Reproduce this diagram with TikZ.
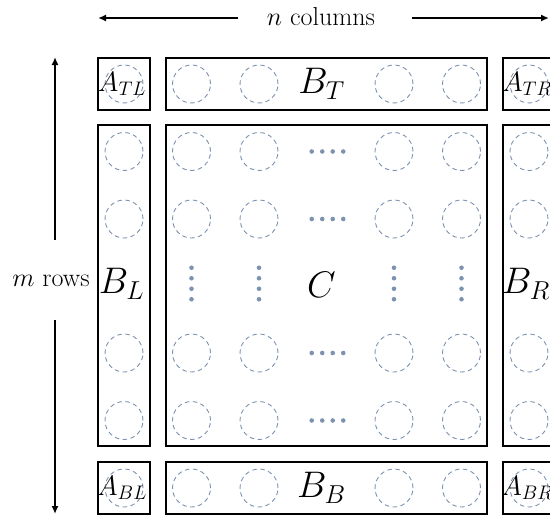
\RequirePackage{fix-cm}
\documentclass[tikz,border=0pt]{standalone}
\usepackage{fontspec}
\usetikzlibrary{arrows.meta}
\definecolor{dotc}{RGB}{125,146,176}
\tikzset{
  blk/.style={draw=black, line width=1.6pt, minimum width=#1, inner sep=0pt},
  cell/.style={circle, draw=dotc, line width=0.9pt, dash pattern=on 4.5pt off 3.5pt, minimum size=38pt, inner sep=0pt},
  dotn/.style={circle, fill=dotc, minimum size=4.6pt, inner sep=0pt},
  big/.style={font=\fontsize{37}{40}\selectfont, inner sep=0pt},
  corner/.style={font=\fontsize{28}{31}\selectfont, inner sep=0pt},
  lab/.style={font=\fontsize{26}{30}\selectfont, inner sep=0pt},
  dimarrow/.style={line width=2.2pt, -{Latex[length=8pt,width=7pt]}}
}
\begin{document}
\begin{tikzpicture}[x=1pt,y=-1pt]
\useasboundingbox (0,0) rectangle (550,517);
\clip (0,0) rectangle (550,517);
% circles
\foreach \c/\x in {0/124,1/191.5,2/259,4/394,5/461.5,6/529}{
  \foreach \r/\y in {0/84,1/151.5,2/219,4/353,5/420.5,6/488}{
    \node[cell] (c\r\c) at (\x,\y) {};
  }
}
% horizontal dots in C
\foreach \r/\y in {1/151.5,2/219,4/353,5/420.5}{
  \foreach \k/\dx in {a/-15.75,b/-5.25,c/5.25,d/15.75}{
    \node[dotn] (h\r\k) at (327.5+\dx,\y) {};
  }
}
% vertical dots in C
\foreach \c/\x in {1/191.5,2/259,4/394,5/461.5}{
  \foreach \k/\dy in {a/-15.75,b/-5.25,c/5.25,d/15.75}{
    \node[dotn] (v\c\k) at (\x,283.5+\dy) {};
  }
}
% boxes
\node[blk=52pt, minimum height=52pt] (ATL) at (124,84) {};
\node[blk=321pt, minimum height=52pt] (BT) at (326.5,84) {};
\node[blk=52pt, minimum height=52pt] (ATR) at (529,84) {};
\node[blk=52pt, minimum height=321pt] (BL) at (124,285.5) {};
\node[blk=321pt, minimum height=321pt] (C) at (326.5,285.5) {};
\node[blk=52pt, minimum height=321pt] (BR) at (529,285.5) {};
\node[blk=52pt, minimum height=52pt] (ABL) at (124,488) {};
\node[blk=321pt, minimum height=52pt] (BB) at (326.5,488) {};
\node[blk=52pt, minimum height=52pt] (ABR) at (529,488) {};
% labels
\node[corner] (lATL) at (122,84) {$A_{TL}$};
\node[corner] (lATR) at (527,84) {$A_{TR}$};
\node[corner] (lABL) at (122,488) {$A_{BL}$};
\node[corner] (lABR) at (527,488) {$A_{BR}$};
\node[big] (lBT) at (321.5,84) {$B_T$};
\node[big] (lBB) at (321.5,488) {$B_B$};
\node[big] (lBL) at (121.5,284) {$B_L$};
\node[big] (lBR) at (526,284) {$B_R$};
\node[big] (lC) at (321.5,285) {$C$};
% dimension labels and arrows
\node[lab] (ncol) at (321,17) {$n$ columns};
\node[lab] (mrow) at (51,281) {$m$ rows};
\coordinate (nl) at (238,18);
\coordinate (nle) at (98,18);
\coordinate (nr) at (412,18);
\coordinate (nre) at (549,18);
\coordinate (mt) at (55,240);
\coordinate (mte) at (55,57);
\coordinate (mb) at (55,320);
\coordinate (mbe) at (55,514);
\draw[dimarrow] (nl) -- (nle);
\draw[dimarrow] (nr) -- (nre);
\draw[dimarrow] (mt) -- (mte);
\draw[dimarrow] (mb) -- (mbe);
\end{tikzpicture}
\end{document}
